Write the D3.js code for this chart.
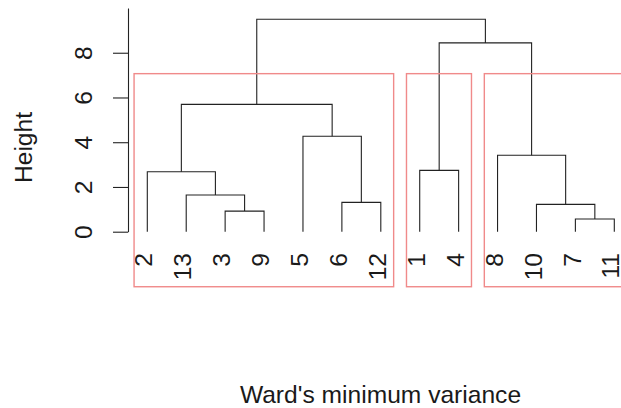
<!DOCTYPE html>
<meta charset="utf-8">
<style>
    body { margin: 0; background: #fff; }
    svg { display: block; font-family: "Liberation Sans", Arial, sans-serif; }
    .link { fill: none; stroke: #222; stroke-width: 1.1; }
    .box { fill: none; stroke: #f08a8a; stroke-width: 1.4; }
</style>
<body>
<svg width="621" height="408"></svg>
<script src="https://d3js.org/d3.v7.min.js"></script>
<script>
    // leaf labels in plotting order
    var leafOrder = [2, 13, 3, 9, 5, 6, 12, 1, 4, 8, 10, 7, 11];
    // R-style merge table: negative = leaf, positive = earlier merge step
    var mergeA = [-7, -3, -10, -6, -13, -2, -1, -8, -5, 6, 7, 10];
    var mergeB = [-11, -9, 1, -12, 2, 5, -4, 3, 4, 9, 8, 11];
    var mergeHeight = [0.57, 0.92, 1.22, 1.31, 1.64, 2.68, 2.74, 3.42, 4.27, 5.69, 8.44, 9.50];
    var yTicks = [0, 2, 4, 6, 8];
    var clusterBreaks = [0, 7, 9, 13]; // k = 3 groups (leaf positions)

    var svg = d3.select("svg");
    var fs = 24.6;

    var x = d3.scaleLinear().domain([1, 13]).range([147.3, 614.3]);
    var y = d3.scaleLinear().domain([0, 10]).range([231.7, 8]);

    // position of each leaf label
    var leafPos = {};
    leafOrder.forEach(function(l, i) { leafPos[l] = i + 1; });

    // walk the merges, remembering x/height of every node
    var nodes = [];
    function nodeOf(id) {
        if (id < 0) return { x: leafPos[-id], h: 0 };
        return nodes[id - 1];
    }
    var g = svg.append("g");
    mergeA.forEach(function(a, i) {
        var na = nodeOf(a), nb = nodeOf(mergeB[i]);
        var h = mergeHeight[i];
        var p = d3.path();
        p.moveTo(x(na.x), y(na.h));
        p.lineTo(x(na.x), y(h));
        p.lineTo(x(nb.x), y(h));
        p.lineTo(x(nb.x), y(nb.h));
        g.append("path").attr("class", "link").attr("d", p.toString());
        nodes.push({ x: (na.x + nb.x) / 2, h: h });
    });

    // leaf labels
    svg.append("g").selectAll("text")
        .data(leafOrder)
        .enter().append("text")
        .attr("transform", function(d, i) { return "translate(" + x(i + 1) + ",253) rotate(-90)"; })
        .attr("text-anchor", "end")
        .attr("dy", "0.21em")
        .attr("font-size", fs)
        .attr("fill", "#1a1a1a")
        .text(function(d) { return d; });

    // rect.hclust boxes
    var n = mergeHeight.length;
    var cut = (mergeHeight[n - 1 - 1] + mergeHeight[n - 1 - 2]) / 2;
    for (var k = 0; k < clusterBreaks.length - 1; k++) {
        var x0 = x(clusterBreaks[k] + 0.66), x1 = x(clusterBreaks[k + 1] + 0.33);
        var yTop = y(cut), yBot = y(-2.46);
        svg.append("rect").attr("class", "box")
            .attr("x", x0).attr("y", yTop)
            .attr("width", x1 - x0).attr("height", yBot - yTop);
    }

    // y axis
    var axis = svg.append("g")
        .attr("transform", "translate(128,0)")
        .call(d3.axisLeft(y).tickValues(yTicks).tickSize(15).tickSizeOuter(0));
    axis.select(".domain").attr("stroke", "#222").attr("stroke-width", 1.1);
    axis.selectAll(".tick line").attr("stroke", "#222").attr("stroke-width", 1.1);
    axis.selectAll(".tick text")
        .attr("x", null).attr("dy", null)
        .attr("transform", "translate(-36,0) rotate(-90)")
        .attr("text-anchor", "middle")
        .attr("font-size", fs)
        .attr("font-family", "Liberation Sans, Arial, sans-serif")
        .attr("fill", "#1a1a1a");

    svg.append("text")
        .attr("transform", "translate(31.7,147.5) rotate(-90)")
        .attr("text-anchor", "middle")
        .attr("font-size", fs)
        .attr("fill", "#1a1a1a")
        .text("Height");

    svg.append("text")
        .attr("x", 380.5).attr("y", 403.3)
        .attr("text-anchor", "middle")
        .attr("font-size", fs)
        .attr("fill", "#1a1a1a")
        .text("Ward's minimum variance");
</script>
</body>
